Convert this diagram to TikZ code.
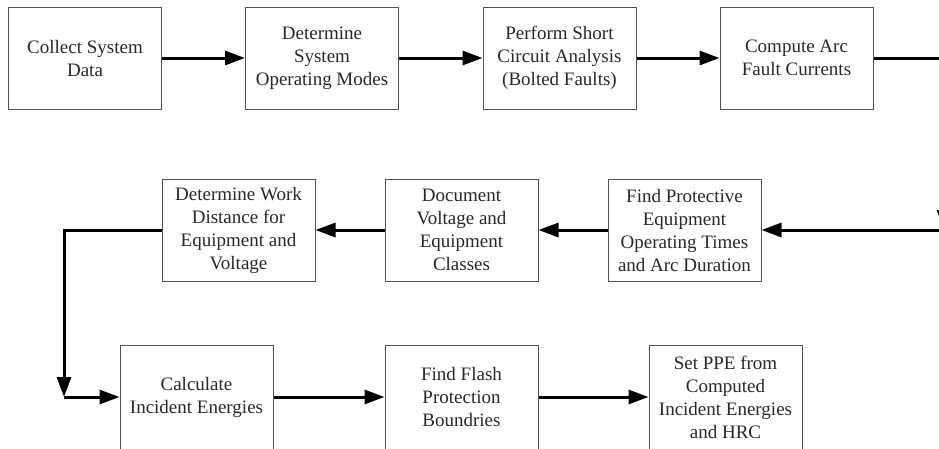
\documentclass[tikz,border=0pt]{standalone}
\usepackage{fontspec}
\setmainfont{Liberation Serif}
\usetikzlibrary{arrows.meta}
\definecolor{boxline}{RGB}{85,85,85}
\definecolor{boxtext}{RGB}{40,40,40}
\tikzset{
  stepbox/.style={draw=boxline,line width=1pt,minimum width=153pt,minimum height=102pt,
    inner sep=0pt,align=center,text=boxtext,font=\fontsize{19}{23}\selectfont},
  flow/.style={line width=3pt,-{Triangle[length=20pt,width=14pt]}}
}

\begin{document}
\begin{tikzpicture}[x=1pt,y=-1pt]
\useasboundingbox (0,0) rectangle (939,448);
\clip (0,0) rectangle (939,448);
% first row
\node[stepbox] (collect) at (85,58) {Collect System\\Data};
\node[stepbox] (modes) at (322,58) {Determine\\System\\Operating Modes};
\node[stepbox] (short) at (559.5,58) {Perform Short\\Circuit Analysis\\(Bolted Faults)};
\node[stepbox] (arcfault) at (796.5,58) {Compute Arc\\Fault Currents};
% second row, right to left
\node[stepbox] (protect) at (684.5,230) {Find Protective\\Equipment\\Operating Times\\and Arc Duration};
\node[stepbox] (document) at (461.5,230) {Document\\Voltage and\\Equipment\\Classes};
\node[stepbox] (workdist) at (238.5,230) {Determine Work\\Distance for\\Equipment and\\Voltage};
% third row
\node[stepbox,minimum height=104pt] (incident) at (196.5,397) {Calculate\\Incident Energies};
\node[stepbox,minimum height=104pt] (flash) at (461.5,397) {Find Flash\\Protection\\Boundries};
\node[stepbox,minimum height=104pt] (ppe) at (725.5,397) {Set PPE from\\Computed\\Incident Energies\\and HRC};
% turns
\coordinate (rtop) at (944,58);
\coordinate (rbot) at (944,230);
\coordinate (ltop) at (64,230);
\coordinate (lbot) at (64,397);

\draw[flow] (collect) -- (modes);
\draw[flow] (modes) -- (short);
\draw[flow] (short) -- (arcfault);
\draw[flow] (arcfault.east) -- (rtop) -- (rbot);
\draw[flow] (rbot) -- (protect.east);
\draw[flow] (protect) -- (document);
\draw[flow] (document) -- (workdist);
\draw[flow] (workdist.west) -- (ltop) -- (lbot);
\draw[flow] (lbot) -- (incident.west);
\draw[flow] (incident) -- (flash);
\draw[flow] (flash) -- (ppe);
\end{tikzpicture}
\end{document}
